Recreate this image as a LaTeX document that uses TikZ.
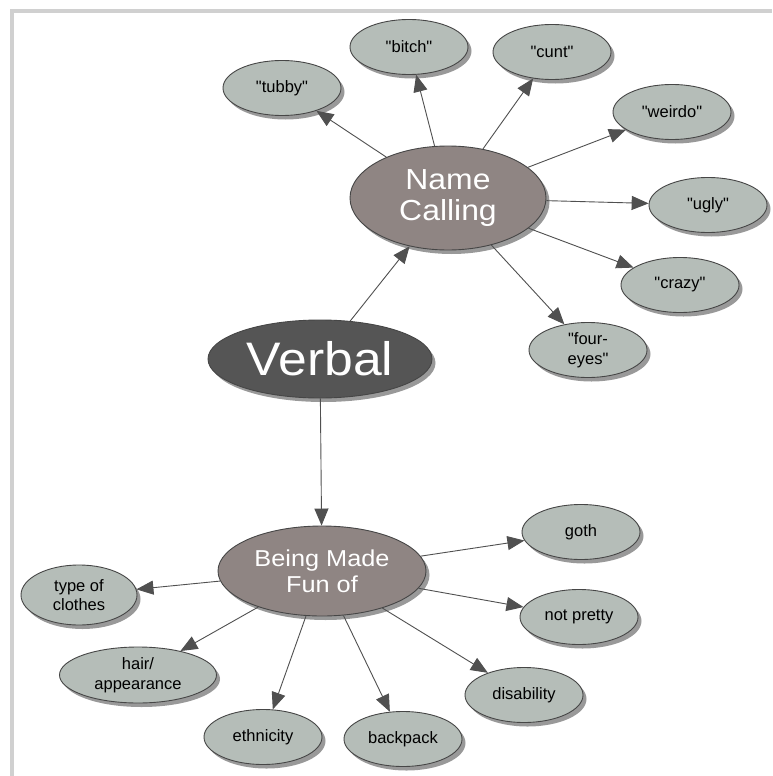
\documentclass[tikz,border=0pt]{standalone}
\usepackage{fontspec}
\setmainfont{Liberation Sans}
\newfontfamily\widefont[FakeStretch=1.1]{Liberation Sans}
\usetikzlibrary{shapes.geometric,shadows,arrows.meta}
\definecolor{darkfill}{RGB}{85,85,85}
\definecolor{midfill}{RGB}{143,133,131}
\definecolor{leaffill}{RGB}{181,189,184}
\definecolor{bordergray}{RGB}{70,70,70}
\definecolor{linegray}{RGB}{80,80,80}
\definecolor{framegray}{RGB}{208,208,208}
\newcommand\dq{\textquotedbl}
\begin{document}
\begin{tikzpicture}[x=1pt,y=-1pt,
  base/.style={ellipse, draw=bordergray, line width=0.9pt, inner sep=0pt, align=center,
    drop shadow={shadow xshift=3.5pt, shadow yshift=-4pt, fill=black, opacity=0.4}},
  leaf/.style={base, fill=leaffill, minimum width=118pt, minimum height=55pt,
    font=\fontsize{16.5}{19.5}\selectfont},
  mid/.style={base, fill=midfill, text=white},
  conn/.style={draw=linegray, line width=0.9pt, -{Triangle[length=17pt,width=14pt]}}
]
\useasboundingbox (0,0) rectangle (772,776);
\fill[white] (0,0) rectangle (772,776);
\draw[framegray, line width=4pt] (12,776) -- (12,11) -- (772,11);

\node[base, fill=darkfill, text=white, minimum width=224pt, minimum height=78pt,
  font=\widefont\fontsize{47}{50}\selectfont] (verbal) at (320,359) {Verbal};
\node[mid, minimum width=196pt, minimum height=104pt,
  font=\widefont\fontsize{29}{31}\selectfont] (nc) at (448,198) {Name\\Calling};
\node[mid, minimum width=208pt, minimum height=90pt,
  font=\widefont\fontsize{23}{26}\selectfont] (bmf) at (322,571) {Being Made\\Fun of};

\node[leaf] (tubby) at (282,88) {\dq tubby\dq};
\node[leaf] (bitch) at (409,47) {\dq bitch\dq};
\node[leaf] (cunt) at (552,52) {\dq cunt\dq};
\node[leaf] (weirdo) at (672,112) {\dq weirdo\dq};
\node[leaf] (ugly) at (708,205) {\dq ugly\dq};
\node[leaf] (crazy) at (680,285) {\dq crazy\dq};
\node[leaf] (four) at (588,350) {\dq four-\\eyes\dq};

\node[leaf, minimum width=116pt, minimum height=60pt] (clothes) at (79,595) {type of\\clothes};
\node[leaf, minimum width=157pt, minimum height=56pt] (hair) at (138,675) {hair/\\appearance};
\node[leaf] (ethnicity) at (263,737) {ethnicity};
\node[leaf] (backpack) at (403,739) {backpack};
\node[leaf] (goth) at (581,532) {goth};
\node[leaf] (notpretty) at (579,617) {not pretty};
\node[leaf] (disability) at (524,695) {disability};

\draw[conn] (verbal) -- (nc);
\draw[conn] (verbal) -- (bmf);
\foreach \t in {tubby,bitch,cunt,weirdo,ugly,crazy,four}
  \draw[conn] (nc) -- (\t);
\foreach \t in {clothes,hair,ethnicity,backpack,goth,notpretty,disability}
  \draw[conn] (bmf) -- (\t);
\end{tikzpicture}
\end{document}
